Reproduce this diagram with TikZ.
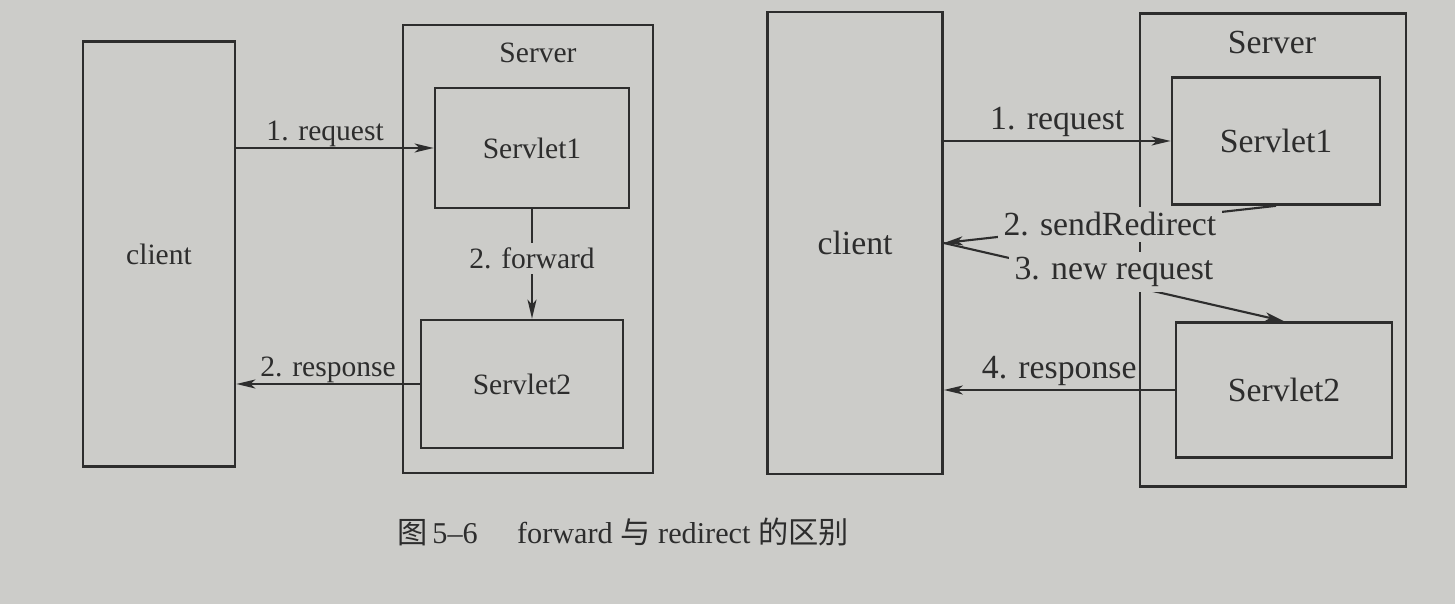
\documentclass[tikz,border=0pt]{standalone}
\usepackage{fontspec}
\setmainfont{Liberation Serif}
\newfontfamily\cjk{Noto Sans CJK SC}
\usetikzlibrary{arrows.meta}
\definecolor{paper}{RGB}{204,204,201}
\definecolor{ink}{RGB}{45,45,45}
\begin{document}
\begin{tikzpicture}[x=0.01cm,y=-0.01cm,
  box/.style={draw=ink,line width=0.75pt,inner sep=0pt,text=ink},
  lfont/.style={font=\fontsize{8.4pt}{10pt}\selectfont},
  rfont/.style={font=\fontsize{9.6pt}{11pt}\selectfont},
  txt/.style={text=ink,inner sep=1pt},
  arr/.style={draw=ink,line width=0.6pt,-{Stealth[length=0.19cm,width=0.09cm,inset=0.05cm]}},
  cut/.style={fill=paper,inner sep=1.5pt,text=ink}]
\fill[paper] (0,0) rectangle (1455,604);
\useasboundingbox (0,0) rectangle (1455,604);

% ---- left: forward ----
\node[box,lfont,minimum width=1.52cm,minimum height=4.25cm] (clientL) at (159,254) {client};
\node[box,minimum width=2.50cm,minimum height=4.48cm] (serverL) at (528,249) {};
\node[txt,lfont] (serverLt) at (538,53) {Server};
\node[box,lfont,minimum width=1.94cm,minimum height=1.20cm] (s1L) at (532,148) {Servlet1};
\node[box,lfont,minimum width=2.02cm,minimum height=1.28cm] (s2L) at (522,384) {Servlet2};

\draw[arr] (s1L.west -| clientL.east) -- node[txt,lfont,above=-1pt,pos=0.45]{1. request} (s1L.west);
\draw[arr] (s1L.south) -- node[cut,lfont,pos=0.45]{2. forward} (s1L.south |- s2L.north);
\draw[arr] (s2L.west) -- node[txt,lfont,above=-1pt]{2. response} (s2L.west -| clientL.east);

% ---- right: redirect ----
\node[box,rfont,minimum width=1.75cm,minimum height=4.62cm] (clientR) at (855,243) {client};
\node[box,minimum width=2.66cm,minimum height=4.73cm] (serverR) at (1273,250) {};
\node[txt,rfont] (serverRt) at (1272,42) {Server};
\node[box,rfont,minimum width=2.08cm,minimum height=1.27cm] (s1R) at (1276,141) {Servlet1};
\node[box,rfont,minimum width=2.16cm,minimum height=1.35cm] (s2R) at (1284,390) {Servlet2};

\draw[arr] (s1R.west -| clientR.east) -- node[txt,rfont,above=0pt]{1. request} (s1R.west);
\draw[arr] (s1R.south) -- node[cut,rfont]{2. sendRedirect} (clientR.east);
\draw[arr] (clientR.east) -- node[cut,rfont,pos=0.5,yshift=0.1cm]{3. new request} (s2R.north);
\draw[arr] (s2R.west) -- node[txt,rfont,above=0pt]{4. response} (s2R.west -| clientR.east);

% ---- caption ----
\node[txt,font=\fontsize{8.6pt}{10pt}\selectfont] (cap) at (623,532)
  {{\cjk 图}\,5–6\hspace{1.3em}forward {\cjk 与} redirect {\cjk 的区别}};
\end{tikzpicture}
\end{document}
